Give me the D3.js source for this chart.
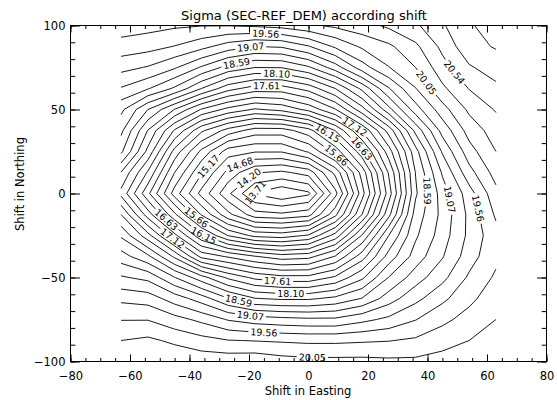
<!DOCTYPE html>
<html>
<head>
<meta charset="utf-8">
<script src="https://cdn.jsdelivr.net/npm/d3@7"></script>
<style>
  body { margin: 0; background: #fff; }
  svg { display: block; }
  text { font-family: "DejaVu Sans", sans-serif; fill: #000; }
</style>
</head>
<body>
<svg id="chart" width="557" height="400"></svg>
<script>
// grid of the shifts (columns = easting, rows = northing, top row first)
const shiftEast = [-63, -54, -45, -36, -27, -18, -9, 0, 9, 18, 27, 36, 45, 54, 63];
const shiftNorth = [100, 87.5, 75, 62.5, 50, 37.5, 25, 12.5, 0, -12.5, -25, -37.5, -50, -62.5, -75, -87.5, -100];
// sigma, one row per northing value
const sigma = [
  [19.95, 19.90, 19.85, 19.82, 19.82, 19.85, 19.90, 20.00, 20.10, 20.20, 20.35, 20.50, 20.75, 21.00, 21.15],
  [19.70, 19.65, 19.55, 19.40, 19.20, 19.07, 19.10, 19.30, 19.60, 19.85, 20.00, 20.25, 20.60, 20.95, 21.05],
  [19.40, 19.30, 19.10, 18.80, 18.50, 18.34, 18.35, 18.55, 18.95, 19.45, 19.80, 20.05, 20.45, 20.75, 20.90],
  [19.05, 18.85, 18.55, 18.10, 17.70, 17.50, 17.50, 17.70, 18.10, 18.65, 19.30, 19.80, 20.25, 20.55, 20.72],
  [18.65, 18.10, 17.60, 17.10, 16.80, 16.60, 16.70, 16.95, 17.35, 18.00, 18.75, 19.45, 19.95, 20.35, 20.56],
  [18.40, 17.60, 16.85, 16.20, 15.80, 15.55, 15.55, 15.80, 16.40, 17.15, 17.95, 18.90, 19.65, 20.15, 20.42],
  [18.15, 17.30, 16.30, 15.60, 15.05, 14.95, 14.95, 15.20, 15.75, 16.55, 17.50, 18.50, 19.35, 19.95, 20.30],
  [17.60, 16.85, 15.90, 15.20, 14.60, 14.22, 14.15, 14.30, 15.00, 16.00, 17.15, 18.35, 19.10, 19.72, 20.15],
  [17.30, 16.45, 15.55, 14.85, 14.25, 13.68, 13.50, 13.66, 14.60, 15.80, 17.00, 18.30, 18.95, 19.45, 19.98],
  [17.85, 17.00, 16.20, 15.40, 14.75, 14.30, 14.25, 14.35, 15.10, 16.15, 17.30, 18.45, 18.90, 19.38, 19.85],
  [18.30, 17.70, 16.95, 16.20, 15.65, 15.35, 15.30, 15.45, 16.00, 16.90, 17.85, 18.55, 18.95, 19.38, 19.72],
  [18.70, 18.40, 17.80, 17.05, 16.85, 16.65, 16.50, 16.55, 16.90, 17.50, 18.20, 18.70, 19.05, 19.45, 19.75],
  [19.10, 19.00, 18.60, 18.20, 17.80, 17.55, 17.45, 17.45, 17.65, 18.05, 18.60, 18.95, 19.25, 19.60, 19.85],
  [19.50, 19.45, 19.20, 18.95, 18.60, 18.35, 18.30, 18.30, 18.40, 18.60, 18.95, 19.25, 19.50, 19.75, 19.95],
  [19.80, 19.80, 19.65, 19.50, 19.30, 19.20, 19.15, 19.12, 19.12, 19.25, 19.38, 19.55, 19.75, 19.90, 20.05],
  [20.05, 20.10, 20.00, 19.90, 19.82, 19.80, 19.78, 19.76, 19.76, 19.78, 19.80, 19.85, 19.95, 20.05, 20.18],
  [20.30, 20.30, 20.25, 20.20, 20.20, 20.22, 20.15, 20.12, 20.12, 20.12, 20.10, 20.10, 20.15, 20.20, 20.30]
];
// contour levels, every other one is labelled
const levels = [13.71, 13.95, 14.20, 14.44, 14.68, 14.93, 15.17, 15.42, 15.66, 15.90,
  16.15, 16.39, 16.63, 16.88, 17.12, 17.37, 17.61, 17.85, 18.10, 18.34,
  18.59, 18.83, 19.07, 19.32, 19.56, 19.81, 20.05, 20.30, 20.54, 20.78, 21.03];
const xTicks = [-80, -60, -40, -20, 0, 20, 40, 60, 80];
const yTicks = [-100, -50, 0, 50, 100];

const svg = d3.select('#chart');
const x = d3.scaleLinear().domain([-80, 80]).range([70.5, 546.5]);
const y = d3.scaleLinear().domain([-100, 100]).range([361.5, 25.5]);

const nx = shiftEast.length, ny = shiftNorth.length;
// d3.contours puts value i at the centre of cell [i, i+1]
const gx = d3.scaleLinear().domain([0.5, nx - 0.5]).range([shiftEast[0], shiftEast[nx - 1]]);
const gy = d3.scaleLinear().domain([0.5, ny - 0.5]).range([shiftNorth[0], shiftNorth[ny - 1]]);

const contours = d3.contours().size([nx, ny]).thresholds(levels)(sigma.flat());

const onEdge = p => p[0] <= 0 || p[0] >= nx || p[1] <= 0 || p[1] >= ny;
const toPx = p => [x(gx(p[0])), y(gy(p[1]))];

// rings are closed along the grid border: cut those parts away
function openLines(ring) {
  const pts = ring.slice(0, -1);
  const k = pts.findIndex(onEdge);
  if (k < 0) return [ring.slice()];
  const rot = pts.slice(k).concat(pts.slice(0, k));
  const out = [];
  let cur = [];
  rot.forEach(p => {
    if (onEdge(p)) {
      if (cur.length > 1) out.push(cur);
      cur = [];
    } else cur.push(p);
  });
  if (cur.length > 1) out.push(cur);
  return out;
}

const gLines = svg.append('g')
  .attr('fill', 'none')
  .attr('stroke', '#000')
  .attr('stroke-width', 0.9);
const gLabels = svg.append('g')
  .attr('font-size', 9.5)
  .attr('text-anchor', 'middle');
const fmt = d3.format('.2f');
const line = d3.line();

contours.forEach((c, li) => {
  const labelled = li % 2 === 0;
  c.coordinates.forEach(poly => poly.forEach(ring => {
    openLines(ring).forEach(raw => {
      const px = raw.map(toPx);
      const cum = [0];
      for (let i = 1; i < px.length; i++) {
        cum.push(cum[i - 1] + Math.hypot(px[i][0] - px[i - 1][0], px[i][1] - px[i - 1][1]));
      }
      const len = cum[cum.length - 1];
      const at = s => {
        s = Math.max(0, Math.min(len, s));
        let i = 1;
        while (i < cum.length - 1 && cum[i] < s) i++;
        const t = cum[i] === cum[i - 1] ? 0 : (s - cum[i - 1]) / (cum[i] - cum[i - 1]);
        return [px[i - 1][0] + t * (px[i][0] - px[i - 1][0]), px[i - 1][1] + t * (px[i][1] - px[i - 1][1])];
      };
      const cuts = [];
      if (labelled && len > 60) {
        const n = Math.max(1, Math.round(len / 300));
        for (let k = 0; k < n; k++) {
          const s = len * (k + 0.5) / n;
          const p = at(s), a = at(s - 10), b = at(s + 10);
          let ang = Math.atan2(b[1] - a[1], b[0] - a[0]) * 180 / Math.PI;
          if (ang > 90) ang -= 180;
          if (ang < -90) ang += 180;
          const t = gLabels.append('text')
            .attr('transform', `translate(${p[0]},${p[1]}) rotate(${ang})`)
            .attr('dy', '0.36em')
            .text(fmt(c.value));
          const w = t.node().getComputedTextLength();
          cuts.push([s - w / 2 - 2, s + w / 2 + 2]);
        }
      }
      const piece = (a, b) => {
        if (b - a < 0.5) return;
        const pts = [at(a)];
        for (let i = 0; i < px.length; i++) if (cum[i] > a && cum[i] < b) pts.push(px[i]);
        pts.push(at(b));
        gLines.append('path').attr('d', line(pts));
      };
      let start = 0;
      cuts.forEach(([a, b]) => { piece(start, a); start = b; });
      piece(start, len);
    });
  }));
});

// axes: ticks inward on all four sides, labels left and bottom only
const xMinor = d3.range(-80, 81, 5);
const yMinor = d3.range(-100, 101, 10);
const styleAxis = g => {
  g.select('.domain').remove();
  g.attr('font-family', '"DejaVu Sans", sans-serif').attr('font-size', 11.5);
  g.selectAll('line').attr('stroke', '#000');
};
const none = () => '';

svg.append('g').attr('transform', 'translate(0,361.5)')
  .call(d3.axisBottom(x).tickValues(xTicks).tickSize(-7).tickPadding(10)).call(styleAxis);
svg.append('g').attr('transform', 'translate(0,361.5)')
  .call(d3.axisBottom(x).tickValues(xMinor).tickSize(-3.5).tickFormat(none)).call(styleAxis);
svg.append('g').attr('transform', 'translate(0,25.5)')
  .call(d3.axisTop(x).tickValues(xTicks).tickSize(-7).tickFormat(none)).call(styleAxis);
svg.append('g').attr('transform', 'translate(0,25.5)')
  .call(d3.axisTop(x).tickValues(xMinor).tickSize(-3.5).tickFormat(none)).call(styleAxis);
svg.append('g').attr('transform', 'translate(70.5,0)')
  .call(d3.axisLeft(y).tickValues(yTicks).tickSize(-9.5).tickPadding(5)).call(styleAxis);
svg.append('g').attr('transform', 'translate(70.5,0)')
  .call(d3.axisLeft(y).tickValues(yMinor).tickSize(-4.8).tickFormat(none)).call(styleAxis);
svg.append('g').attr('transform', 'translate(546.5,0)')
  .call(d3.axisRight(y).tickValues(yTicks).tickSize(-9.5).tickFormat(none)).call(styleAxis);
svg.append('g').attr('transform', 'translate(546.5,0)')
  .call(d3.axisRight(y).tickValues(yMinor).tickSize(-4.8).tickFormat(none)).call(styleAxis);

svg.append('rect')
  .attr('x', 70.5).attr('y', 25.5)
  .attr('width', 476).attr('height', 336)
  .attr('fill', 'none').attr('stroke', '#000');

svg.append('text')
  .attr('x', 304).attr('y', 20)
  .attr('text-anchor', 'middle')
  .attr('font-size', 13)
  .text('Sigma (SEC-REF_DEM) according shift');
svg.append('text')
  .attr('x', 308).attr('y', 395)
  .attr('text-anchor', 'middle')
  .attr('font-size', 11.5)
  .text('Shift in Easting');
svg.append('text')
  .attr('transform', 'translate(24,184) rotate(-90)')
  .attr('text-anchor', 'middle')
  .attr('font-size', 11.5)
  .text('Shift in Northing');
</script>
</body>
</html>
